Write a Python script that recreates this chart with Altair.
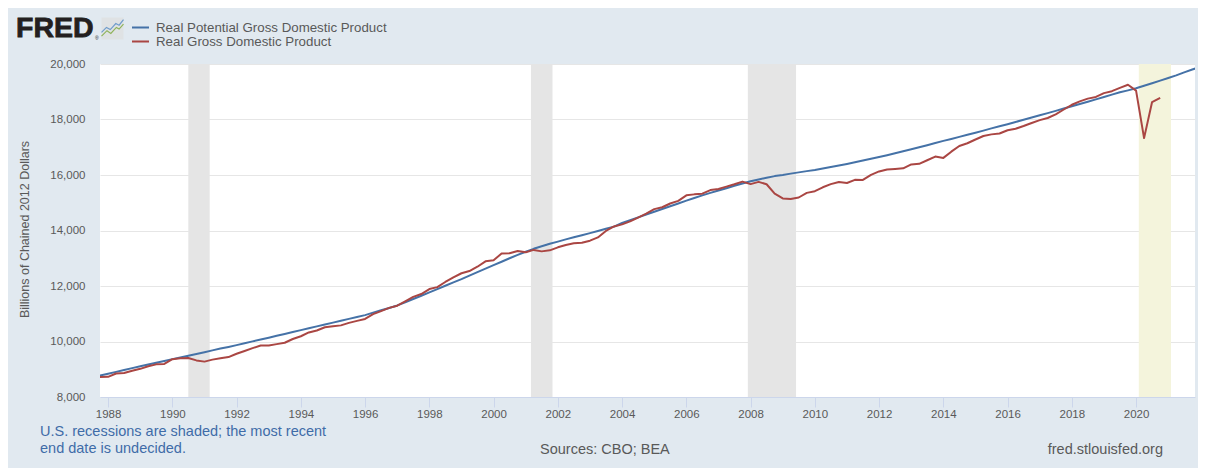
import altair as alt
import pandas as pd

potential = [8770,
 8835,8905,8975,9040, 9105,9170,9235,9300, 9365,9425,9490,9550, 9615,9680,9745,9805,
 9870,9935,10005,10070, 10135,10205,10270,10340, 10410,10475,10545,10610, 10680,10745,10815,10880,
 10950,11040,11125,11210, 11300,11410,11530,11650, 11770,11890,12010,12130, 12250,12375,12500,12625,
 12750,12875,13000,13120, 13235,13340,13430,13520, 13600,13680,13755,13830, 13905,13985,14060,14140,
 14270,14370,14475,14575, 14675,14775,14875,14975, 15075,15170,15265,15355, 15440,15525,15610,15695,
 15775,15840,15900,15960, 16000,16050,16095,16140, 16180,16235,16290,16345, 16400,16460,16525,16585,
 16650,16715,16785,16855, 16925,17000,17075,17150, 17230,17300,17375,17450, 17525,17600,17680,17755,
 17830,17910,17990,18070, 18150,18230,18310,18395, 18480,18560,18640,18725, 18810,18895,18980,19050,
 19125,19215,19305,19400, 19495,19590,19700,19800, 19900]

gdp = [8719,
 8727,8847,8866,8947, 9015,9108,9176,9192, 9364,9398,9405,9319, 9275,9347,9395,9438,
 9560,9658,9760,9858, 9854,9905,9955,10091, 10189,10327,10396,10514, 10550,10581,10672,10744,
 10812,10985,11097,11212, 11290,11450,11610,11710, 11890,11960,12145,12313, 12460,12540,12695,12890,
 12925,13170,13183,13262, 13219,13301,13248,13285, 13394,13478,13538,13560, 13634,13751,13985,14145,
 14221,14329,14465,14609, 14771,14839,14972,15066, 15267,15302,15326,15456, 15493,15582,15666,15762,
 15672,15752,15667,15328, 15156,15134,15189,15356, 15416,15557,15672,15751, 15713,15825,15821,16005,
 16129,16199,16220,16240, 16382,16403,16531,16664, 16616,16841,17047,17144, 17280,17405,17464,17496,
 17614,17668,17765,17876, 17977,18054,18185,18360, 18531,18654,18752,18813, 18951,19021,19142,19254,
 19040,17330,18630,18780]

series_names = ["Real Potential Gross Domestic Product", "Real Gross Domestic Product"]
series_colors = ["#4572a7", "#aa4643"]
rec_start = ["1990-07-01", "2001-03-01", "2007-12-01", "2020-02-01"]
rec_end = ["1991-03-01", "2001-11-01", "2009-06-01", "2021-02-01"]
rec_kind = ["past", "past", "past", "open"]

quarters = pd.date_range("1987-10-01", periods=len(potential), freq="QS").strftime("%Y-%m-%d").tolist()
lines = pd.DataFrame(
    [{"date": d, "value": v, "series": series_names[0]} for d, v in zip(quarters, potential)]
    + [{"date": d, "value": v, "series": series_names[1]} for d, v in zip(quarters, gdp)]
)
recs = pd.DataFrame({"start": rec_start, "end": rec_end, "kind": rec_kind})

x_scale = alt.Scale(type="utc", domain=["1987-10-01", "2021-11-01"])
FONT = "Liberation Sans"
GREY = "#595959"
BLUE = "#3f6ca8"

rects = alt.Chart(recs).mark_rect().encode(
    x=alt.X("start:T", scale=x_scale, title=None,
            axis=alt.Axis(format="%Y", tickCount={"interval": "year", "step": 2}, grid=False,
                          domainColor="#ccd6eb", tickColor="#ccd6eb", tickSize=10,
                          labelColor=GREY, labelFontSize=11.5, labelFont=FONT, labelPadding=1,
                          labelFlush=False, labelOverlap=False)),
    x2="end:T",
    fill=alt.Fill("kind:N", legend=None,
                  scale=alt.Scale(domain=["past", "open"], range=["#e5e5e5", "#f4f4dc"])),
)

line = alt.Chart(lines).mark_line(strokeWidth=2, strokeJoin="round", clip=True).encode(
    x=alt.X("date:T", scale=x_scale, title=None),
    y=alt.Y("value:Q", scale=alt.Scale(domain=[8000, 20000], nice=False),
            title="Billions of Chained 2012 Dollars",
            axis=alt.Axis(values=[8000, 10000, 12000, 14000, 16000, 18000, 20000], format=",d",
                          domain=False, ticks=False, gridColor="#e6e6e6",
                          labelColor=GREY, labelFontSize=11.5, labelFont=FONT, labelPadding=15,
                          titleColor=GREY, titleFontSize=12.5, titleFont=FONT, titleFontWeight="normal",
                          titleX=-69, titleY=165)),
    color=alt.Color("series:N", scale=alt.Scale(domain=series_names, range=series_colors),
                    legend=alt.Legend(orient="none", legendX=31, legendY=-43, title=None,
                                      symbolType="stroke", symbolStrokeWidth=2, symbolSize=289,
                                      labelColor=GREY, labelFontSize=13.3, labelFont=FONT, labelLimit=400,
                                      rowPadding=0, labelOffset=6, clipHeight=13, padding=0)),
)


def note(txt, px, py, size, color, align="left", weight="normal", **kw):
    return alt.Chart(pd.DataFrame({"t": [txt]})).mark_text(
        font=FONT, fontSize=size, color=color, align=align, baseline="middle", fontWeight=weight, **kw
    ).encode(text="t:N", x=alt.value(px), y=alt.value(py))


def icon(path, px, py, size, **kw):
    return alt.Chart(pd.DataFrame({"t": [1]})).mark_point(shape=path, size=size, opacity=1, **kw).encode(
        x=alt.value(px), y=alt.value(py))


logo = [
    note("FRED", -84, -36, 28.5, "#231f20", weight="bold", stroke="#231f20", strokeWidth=0.8),
    note("®", -5, -26, 5, "#231f20"),
    icon("square", 12.5, -35.5, 484, filled=True, color="#dfe2e4"),
    icon("M-1 0.7L-0.5 0.2L-0.15 0.45L0.35 -0.1L0.6 0.05L1 -0.4", 12.5, -35.5, 484,
         filled=False, color="#8fb35a", strokeWidth=1.2),
    icon("M-1 0.35L-0.55 -0.1L-0.2 0.1L0.3 -0.45L0.6 -0.3L1 -0.8", 12.5, -35.5, 484,
         filled=False, color="#6f9ccb", strokeWidth=1.2),
]

notes = [
    note("U.S. recessions are shaded; the most recent", -60, 368, 14.5, BLUE),
    note("end date is undecided.", -60, 385, 14.5, BLUE),
    note("Sources: CBO; BEA", 440, 386, 14.5, GREY),
    note("fred.stlouisfed.org", 1063, 386, 14.5, GREY, align="right"),
]

chart = alt.layer(rects, line, *logo, *notes).resolve_scale(color="independent", fill="independent").properties(
    width=1095, height=333,
    background="#e1e9f0",
    autosize=alt.AutoSizeParams(type="none"),
    padding={"left": 92, "top": 56, "right": 3, "bottom": 71},
).configure_view(fill="white", stroke=None)

chart.save("out.html", embed_options={"renderer": "svg", "actions": False})
